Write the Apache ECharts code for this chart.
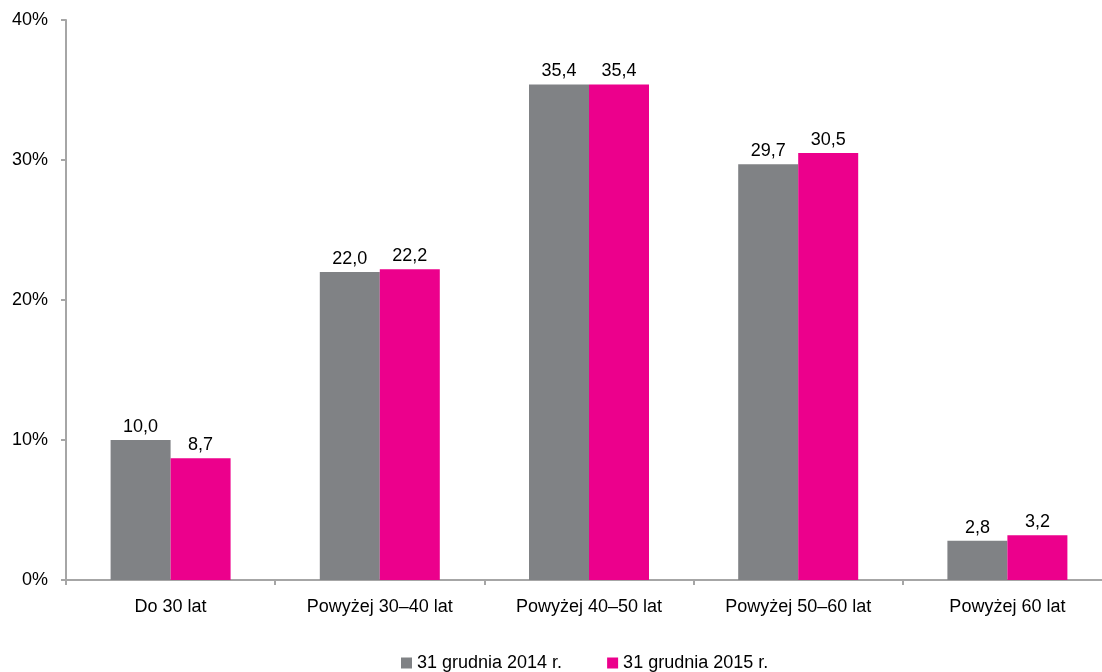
<!DOCTYPE html>
<html>
<head>
<meta charset="utf-8">
<script src="https://cdn.jsdelivr.net/npm/echarts@6/dist/echarts.min.js"></script>
<style>
html,body{margin:0;padding:0;background:#fff;}
#chart{width:1102px;height:672px;}
</style>
</head>
<body>
<div id="chart"></div>
<script>
const categories = ['Do 30 lat', 'Powyżej 30–40 lat', 'Powyżej 40–50 lat', 'Powyżej 50–60 lat', 'Powyżej 60 lat'];
const series2014 = [10.0, 22.0, 35.4, 29.7, 2.8];
const series2015 = [8.7, 22.2, 35.4, 30.5, 3.2];
const seriesNames = ['31 grudnia 2014 r.', '31 grudnia 2015 r.'];
const yTicks = [0, 10, 20, 30, 40];

const font = 'Liberation Sans, Arial, sans-serif';
const fs = 18;
const fmt = v => v.toFixed(1).replace('.', ',');
const chart = echarts.init(document.getElementById('chart'), null, {renderer: 'canvas'});
const axisColor = '#a6a6a6';
chart.setOption({
  animation: false,
  grid: {left: 66, width: 1046, top: 20, height: 560, containLabel: false, outerBoundsMode: 'none'},
  legend: {
    top: 654, left: 401, padding: 0,
    itemWidth: 11, itemHeight: 11, itemGap: 45,
    icon: 'rect',
    textStyle: {fontFamily: font, fontSize: fs, color: '#000'},
    data: seriesNames
  },
  xAxis: {
    type: 'category',
    data: categories,
    axisLine: {lineStyle: {color: axisColor, width: 2}},
    axisTick: {show: true, length: 5, lineStyle: {color: axisColor, width: 2}},
    axisLabel: {fontFamily: font, fontSize: fs, color: '#000', margin: 18, interval: 0}
  },
  yAxis: {
    type: 'value',
    min: yTicks[0], max: yTicks[yTicks.length - 1], interval: 10,
    axisLine: {show: true, lineStyle: {color: axisColor, width: 2}},
    axisTick: {show: true, length: 5, lineStyle: {color: axisColor, width: 2}},
    splitLine: {show: false},
    axisLabel: {fontFamily: font, fontSize: fs, color: '#000', margin: 18, formatter: v => v + '%'}
  },
  series: [
    {
      name: seriesNames[0], type: 'bar', data: series2014,
      barWidth: 60, barGap: '0%',
      itemStyle: {color: '#808285'},
      label: {show: true, position: 'top', distance: 4, fontFamily: font, fontSize: fs, color: '#000', formatter: p => fmt(p.value)}
    },
    {
      name: seriesNames[1], type: 'bar', data: series2015,
      barWidth: 60, barGap: '0%',
      itemStyle: {color: '#ec008c'},
      label: {show: true, position: 'top', distance: 4, fontFamily: font, fontSize: fs, color: '#000', formatter: p => fmt(p.value)}
    }
  ]
});
</script>
</body>
</html>
